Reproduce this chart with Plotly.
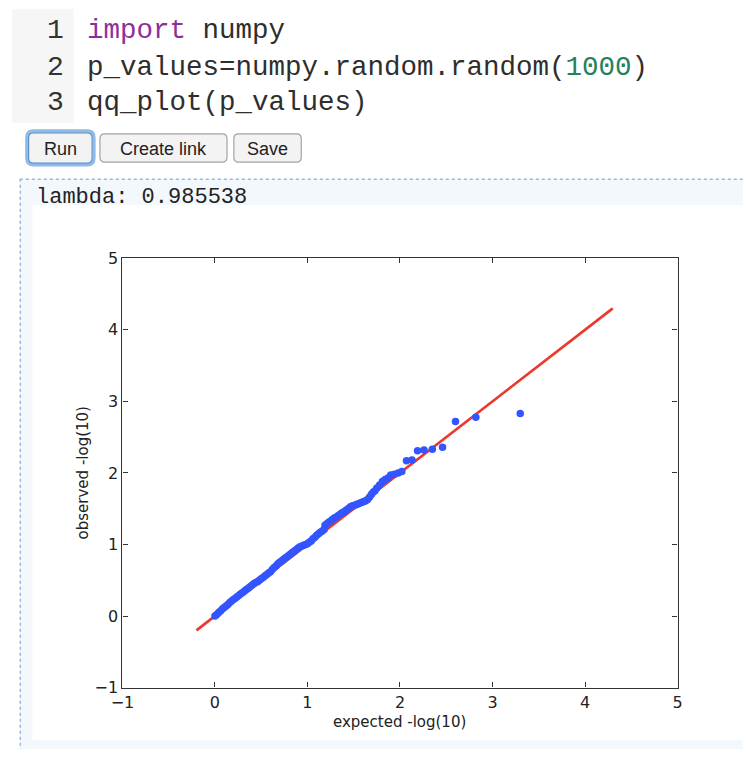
import plotly.graph_objects as go

W, H = 748, 759

# ---------------- data ----------------
expected = [
    0.00, 0.02, 0.04, 0.06, 0.08, 0.10, 0.12, 0.14, 0.16, 0.18,
    0.20, 0.22, 0.24, 0.26, 0.28, 0.30, 0.32, 0.34, 0.36, 0.38,
    0.40, 0.42, 0.44, 0.46, 0.48, 0.50, 0.52, 0.54, 0.56, 0.58,
    0.60, 0.62, 0.64, 0.66, 0.68, 0.70, 0.72, 0.74, 0.76, 0.78,
    0.80, 0.82, 0.84, 0.86, 0.88, 0.90, 0.92, 0.94, 0.96, 0.98,
    1.00, 1.02, 1.04, 1.06, 1.08, 1.10, 1.12, 1.14, 1.16, 1.18,
    1.19, 1.21, 1.23, 1.25, 1.27, 1.29, 1.31, 1.33, 1.35, 1.37,
    1.39, 1.41, 1.43, 1.45, 1.47, 1.49, 1.51, 1.53, 1.55, 1.57,
    1.59, 1.61, 1.63, 1.65, 1.67, 1.69, 1.71, 1.73, 1.75, 1.78,
    1.81, 1.84, 1.87, 1.90, 1.94, 1.98, 2.02, 2.07, 2.13, 2.19,
    2.26, 2.35, 2.46, 2.60, 2.82, 3.30,
]
observed = [
    0.00, 0.02, 0.05, 0.07, 0.10, 0.12, 0.14, 0.16, 0.19, 0.21,
    0.23, 0.25, 0.27, 0.29, 0.31, 0.33, 0.35, 0.37, 0.39, 0.41,
    0.43, 0.45, 0.47, 0.48, 0.50, 0.52, 0.54, 0.56, 0.58, 0.60,
    0.62, 0.65, 0.68, 0.70, 0.73, 0.75, 0.77, 0.79, 0.81, 0.83,
    0.85, 0.87, 0.89, 0.91, 0.93, 0.95, 0.97, 0.98, 0.99, 1.00,
    1.01, 1.03, 1.05, 1.08, 1.10, 1.13, 1.15, 1.17, 1.19, 1.21,
    1.27, 1.29, 1.31, 1.33, 1.35, 1.37, 1.38, 1.40, 1.42, 1.44,
    1.45, 1.47, 1.49, 1.51, 1.53, 1.54, 1.55, 1.56, 1.57, 1.58,
    1.59, 1.60, 1.61, 1.63, 1.66, 1.70, 1.73, 1.75, 1.79, 1.83,
    1.88, 1.91, 1.93, 1.97, 1.98, 2.00, 2.02, 2.17, 2.18, 2.31,
    2.32, 2.33, 2.36, 2.72, 2.78, 2.83,
]
line_x = [-0.2, 4.3]
line_y = [-0.2, 4.3]
tick_vals = [-1, 0, 1, 2, 3, 4, 5]
x_title = "expected -log(10)"
y_title = "observed -log(10)"
lambda_text = "lambda: 0.985538"
code_lines = [
    '<span style="color:#8e2e9c">import</span> numpy',
    'p_values=numpy.random.random(<span style="color:#26805a">1000</span>)',
    'qq_plot(p_values)',
]
button_labels = ["Run", "Create link", "Save"]

# ---------------- helpers: pixel -> paper ----------------
def px(x):
    return x / W

def py(y):
    return 1 - y / H

def rect(x0, y0, x1, y1, fill, line_color=None, line_width=0, layer="below"):
    return dict(type="rect", xref="paper", yref="paper",
                x0=px(x0), x1=px(x1), y0=py(y1), y1=py(y0),
                fillcolor=fill, layer=layer,
                line=dict(width=line_width, color=line_color or fill))

def rounded(x0, y0, x1, y1, r, fill, line_color, line_width):
    X0, X1 = px(x0), px(x1)
    Y0, Y1 = py(y0), py(y1)
    rx, ry = r / W, r / H
    path = (f"M {X0+rx},{Y0} L {X1-rx},{Y0} Q {X1},{Y0} {X1},{Y0-ry} "
            f"L {X1},{Y1+ry} Q {X1},{Y1} {X1-rx},{Y1} L {X0+rx},{Y1} "
            f"Q {X0},{Y1} {X0},{Y1+ry} L {X0},{Y0-ry} Q {X0},{Y0} {X0+rx},{Y0} Z")
    return dict(type="path", xref="paper", yref="paper", path=path,
                fillcolor=fill, line=dict(color=line_color, width=line_width),
                layer="below")

def line_shape(x0, y0, x1, y1, color, width, dash=None):
    d = dict(type="line", xref="paper", yref="paper",
             x0=px(x0), y0=py(y0), x1=px(x1), y1=py(y1),
             line=dict(color=color, width=width), layer="below")
    if dash:
        d["line"]["dash"] = dash
    return d

# ---------------- figure ----------------
fig = go.Figure()
fig.add_trace(go.Scatter(x=line_x, y=line_y, mode="lines",
                         line=dict(color="#ea3a2e", width=2.7),
                         hoverinfo="skip", showlegend=False))
fig.add_trace(go.Scatter(x=expected, y=observed, mode="markers",
                         marker=dict(color="#3355ff", size=7.5, line=dict(width=0)),
                         showlegend=False))

shapes = []
shapes.append(rect(0, 0, 63, 117, "#f6f6f6"))                 # code gutter
shapes.append(rect(8, 174, 748, 759, "#f3f8fd"))              # output area
shapes.append(line_shape(8, 174.5, 748, 174.5, "#9bb8dc", 1.5, dash="dot"))
shapes.append(line_shape(8.5, 174, 8.5, 759, "#9bb8dc", 1.5, dash="dot"))
shapes.append(rect(21, 201, 748, 750, "#ffffff"))             # white image
btns = [(17, 127, 82, 158), (90, 128, 220, 157), (227, 128, 296, 157)]
shapes.append(rounded(15, 125, 84, 160, 7, "rgba(0,0,0,0)", "#8fbbe8", 3))
for i, (a, b, c, d) in enumerate(btns):
    shapes.append(rounded(a, b, c, d, 5, "#f3f3f3",
                          "#5b8fc8" if i == 0 else "#a4a4a4", 1.2))

annotations = []
mono = "Liberation Mono, Courier New, monospace"
code_y = [22, 60, 96]
for i, (txt, yy) in enumerate(zip(code_lines, code_y)):
    annotations.append(dict(text=str(i + 1), x=px(55), y=py(yy), xref="paper", yref="paper",
                            xanchor="right", yanchor="middle", showarrow=False,
                            font=dict(family=mono, size=28, color="#333333")))
    annotations.append(dict(text=txt, x=px(75), y=py(yy), xref="paper", yref="paper",
                            xanchor="left", yanchor="middle", showarrow=False,
                            font=dict(family=mono, size=27.5, color="#2e2e2e")))
for lab, (a, b, c, d) in zip(button_labels, btns):
    annotations.append(dict(text=lab, x=px((a + c) / 2), y=py((b + d) / 2 + 1),
                            xref="paper", yref="paper", xanchor="center", yanchor="middle",
                            showarrow=False,
                            font=dict(family="Liberation Sans, Arial, sans-serif",
                                      size=18, color="#222222")))
annotations.append(dict(text=lambda_text, x=px(22), y=py(193), xref="paper", yref="paper",
                        xanchor="left", yanchor="middle", showarrow=False,
                        font=dict(family=mono, size=22, color="#222222")))
annotations.append(dict(text=x_title, x=px(397), y=py(731), xref="paper", yref="paper",
                        xanchor="center", yanchor="middle", showarrow=False,
                        font=dict(family="DejaVu Sans", size=15, color="#222222")))
annotations.append(dict(text=y_title, x=px(73), y=py(476), xref="paper", yref="paper",
                        xanchor="center", yanchor="middle", showarrow=False, textangle=-90,
                        font=dict(family="DejaVu Sans", size=15, color="#222222")))

axis_common = dict(range=[-1, 5], tickvals=tick_vals, ticks="inside", ticklen=5,
                   tickwidth=1, tickcolor="#333333", showline=True, linecolor="#333333",
                   linewidth=1.3, mirror="ticks", showgrid=False, zeroline=False,
                   tickfont=dict(family="DejaVu Sans", size=16, color="#222222"))

fig.update_layout(
    width=W, height=H,
    margin=dict(l=0, r=0, t=0, b=0),
    paper_bgcolor="#ffffff",
    plot_bgcolor="rgba(0,0,0,0)",
    xaxis=dict(domain=[px(113), px(681)], **axis_common),
    yaxis=dict(domain=[py(696), py(255.7)], **axis_common),
    shapes=shapes,
    annotations=annotations,
    showlegend=False,
)

fig.write_html(
    "out.html",
    config={"displayModeBar": False},
    post_script="document.documentElement.style.margin='0';"
                "document.documentElement.style.padding='0';"
                "document.body.style.margin='0';document.body.style.padding='0';",
)
